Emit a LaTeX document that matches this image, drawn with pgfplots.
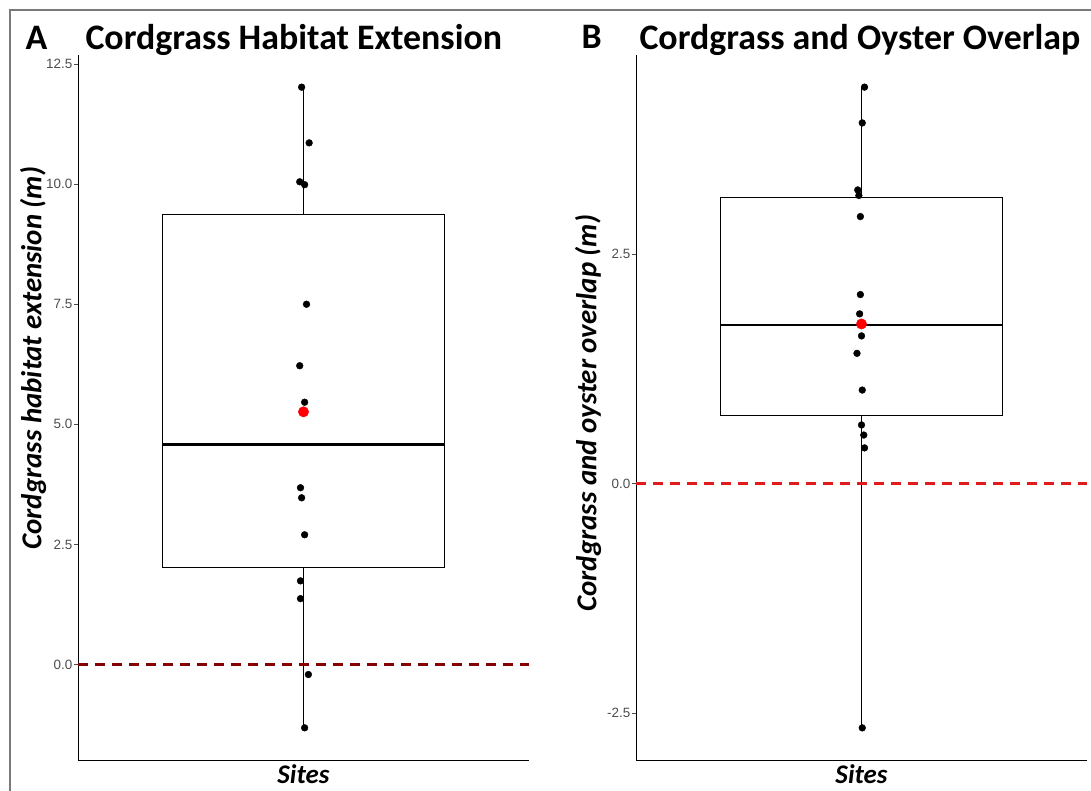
\documentclass[border=0pt]{standalone}
\usepackage{pgfplots}
\pgfplotsset{compat=1.18}
\usepgfplotslibrary{statistics}
\usepackage{fontspec}
\setmainfont{Carlito}
\newfontfamily\arial{Liberation Sans}

\definecolor{tickgray}{HTML}{4D4D4D}
\definecolor{hlineA}{HTML}{850000}
\definecolor{hlineB}{HTML}{E31A1C}
\definecolor{framegray}{HTML}{7A7A7A}

% site values (jittered x around the single category at 1)
\pgfplotstableread{
x      y
0.995  12.02
1.015  10.86
0.990  10.05
1.003   9.99
1.008   7.50
0.990   6.22
1.003   5.46
0.992   3.68
0.995   3.47
1.003   2.70
0.992   1.74
0.992   1.37
1.013  -0.21
1.003  -1.32
}\habitat

\pgfplotstableread{
x      y
1.008   4.32
1.002   3.93
0.990   3.20
0.993   3.14
0.997   2.91
0.997   2.06
0.995   1.85
1.000   1.61
0.988   1.42
1.002   1.02
1.000   0.64
1.006   0.53
1.008   0.39
1.002  -2.66
}\overlap

\pgfplotsset{
  sitesbox/.style={
    scale only axis, width=451bp, height=705bp,
    xmin=0.4, xmax=1.6,
    axis x line*=bottom, axis y line*=left,
    axis line style={-, black, line width=0.8bp},
    xtick=\empty,
    tick align=outside, major tick length=4bp,
    ytick style={tickgray, line width=0.8bp},
    /pgf/number format/assume math mode=true,
    /pgf/number format/fixed,
    /pgf/number format/fixed zerofill,
    /pgf/number format/precision=1,
    yticklabel style={font=\arial\fontsize{13.5}{13.5}\selectfont, text=tickgray, inner sep=1.5bp},
    title style={font=\bfseries\fontsize{36}{36}\selectfont, at={(axis description cs:0,1)}, anchor=base west, yshift=0bp},
    xlabel style={font=\bfseries\itshape\fontsize{27}{27}\selectfont, at={(axis description cs:0.5,0)}, anchor=base, yshift=-23bp},
    xlabel={Sites},
    clip=false,
  },
  box/.style={boxplot/draw direction=y, draw=black, line width=0.8bp, solid, mark=none,
    boxplot/every median/.append style={line width=2.4bp}},
}

\begin{document}
\begin{tikzpicture}
\useasboundingbox (0,0) rectangle (1091bp,-791bp);
\draw[framegray, line width=1.5bp] (10bp,-800bp) -- (10bp,-10bp) -- (1100bp,-10bp);

% ---- A
\begin{axis}[sitesbox,
  at={(78bp,-760bp)}, anchor=south west,
  ymin=-1.99, ymax=12.69,
  ytick={0,2.5,5,7.5,10,12.5},
  title={Cordgrass Habitat Extension},
  title style={xshift=4bp},
  ylabel={Cordgrass habitat extension (m)},
  ylabel style={font=\bfseries\itshape\fontsize{29}{29}\selectfont, at={(axis description cs:-0.0998,0.57)}, anchor=center},
]
\addplot[box, boxplot prepared={draw position=1, box extend=0.75, whisker extend=0,
  median=4.58, lower quartile=2.02, upper quartile=9.38,
  lower whisker=-1.32, upper whisker=12.02}] coordinates {};
\addplot[hlineA, line width=2.6bp, dash pattern=on 10bp off 7bp] coordinates {(0.4,0) (1.6,0)};
\addplot[only marks, mark=*, mark size=3.4bp, black] table[x=x, y=y] {\habitat};
\addplot[only marks, mark=*, mark size=5.2bp, red] coordinates {(1,5.26)};
\node[font=\bfseries\fontsize{36}{36}\selectfont, anchor=base west, yshift=6bp] at (axis description cs:-0.124,1) {A};
\end{axis}

% ---- B
\begin{axis}[sitesbox,
  at={(636bp,-760bp)}, anchor=south west,
  ymin=-3.01, ymax=4.67,
  ytick={-2.5,0,2.5},
  title={Cordgrass and Oyster Overlap},
  ylabel={Cordgrass and oyster overlap (m)},
  ylabel style={font=\bfseries\itshape\fontsize{29}{29}\selectfont, at={(axis description cs:-0.1064,0.492)}, anchor=center},
]
\addplot[box, boxplot prepared={draw position=1, box extend=0.75, whisker extend=0,
  median=1.73, lower quartile=0.74, upper quartile=3.12,
  lower whisker=-2.66, upper whisker=4.32}] coordinates {};
\addplot[hlineB, line width=2.6bp, dash pattern=on 10bp off 7bp] coordinates {(0.4,0) (1.6,0)};
\addplot[only marks, mark=*, mark size=3.4bp, black] table[x=x, y=y] {\overlap};
\addplot[only marks, mark=*, mark size=5.2bp, red] coordinates {(1,1.74)};
\node[font=\bfseries\fontsize{36}{36}\selectfont, anchor=base west, yshift=6bp] at (axis description cs:-0.1286,1) {B};
\end{axis}
\end{tikzpicture}
\end{document}
